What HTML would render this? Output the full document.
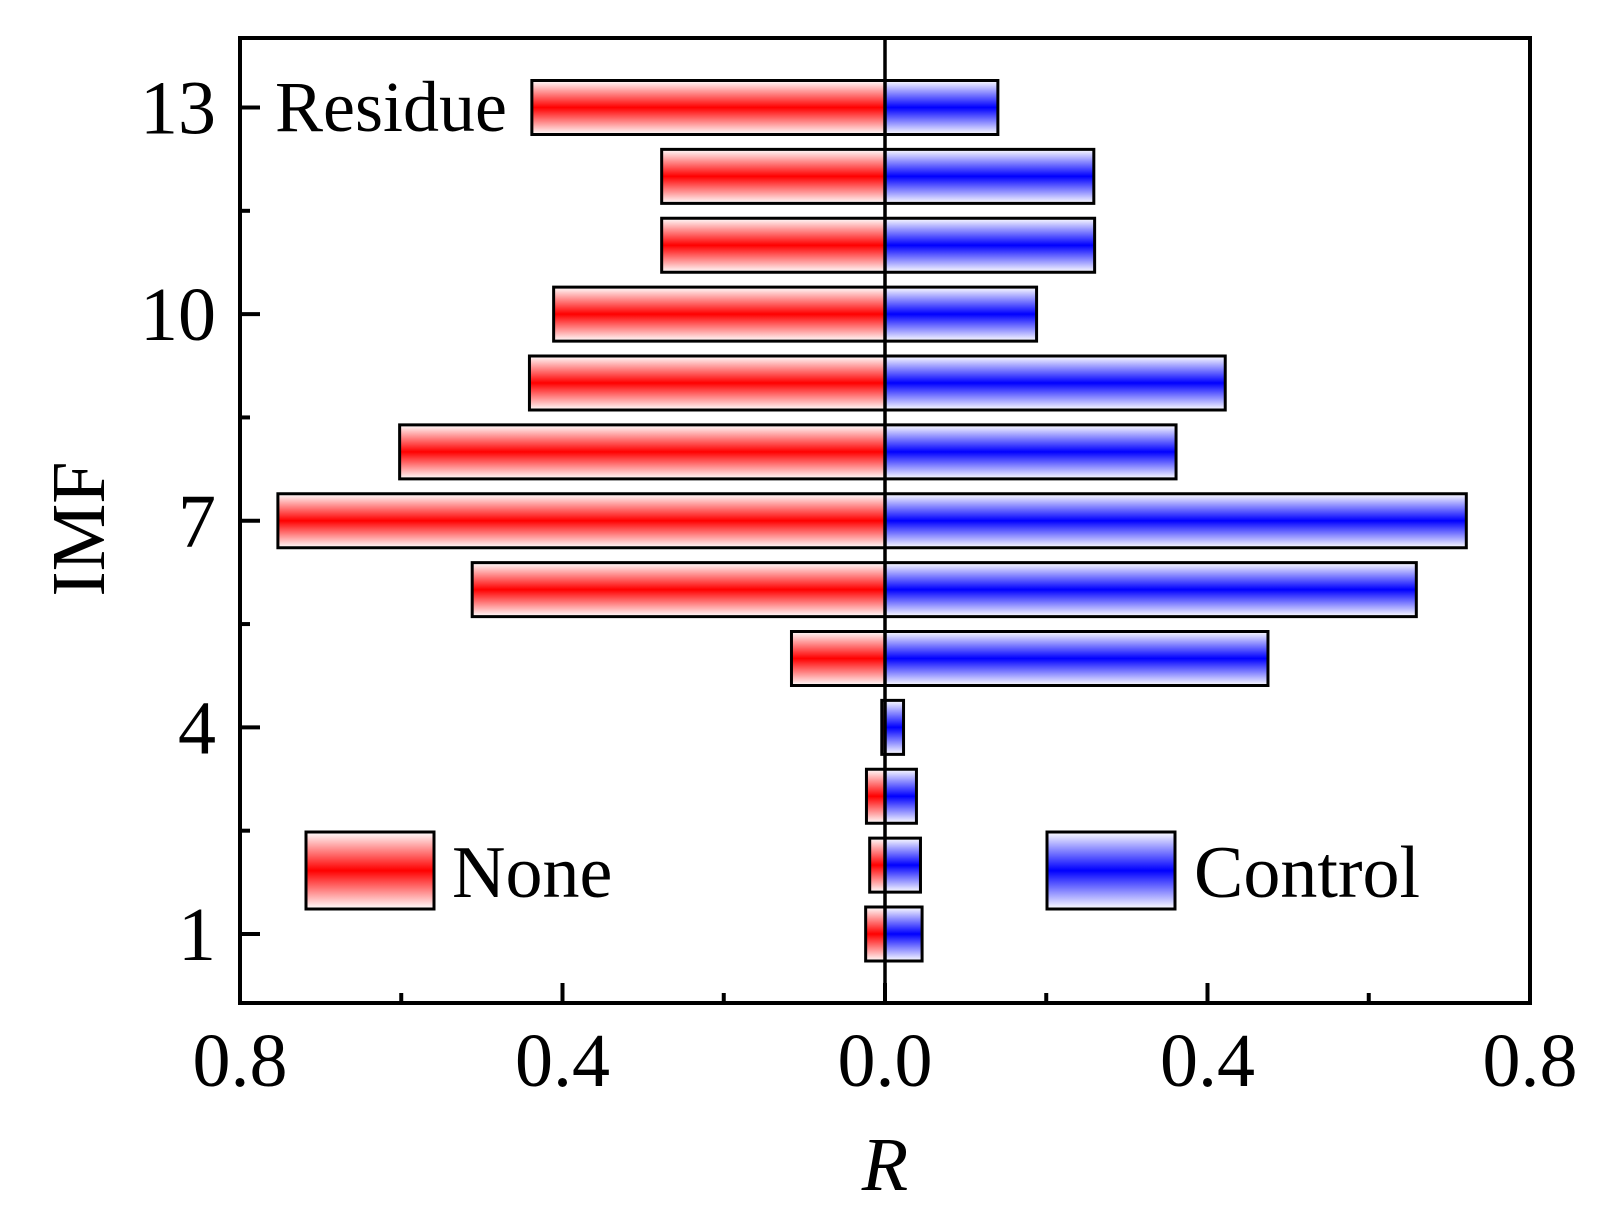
<!DOCTYPE html>
<html><head><meta charset="utf-8"><style>body{margin:0;background:#fff}svg{display:block}text{font-family:"Liberation Serif",serif;fill:#000}</style></head>
<body>
<svg id="chart" width="1604" height="1220" viewBox="0 0 1604 1220" xmlns="http://www.w3.org/2000/svg">
<defs>
<linearGradient id="gr" x1="0" y1="0" x2="0" y2="1"><stop offset="0" stop-color="#fff"/><stop offset="0.5" stop-color="#ff0000"/><stop offset="1" stop-color="#fff"/></linearGradient>
<linearGradient id="gb" x1="0" y1="0" x2="0" y2="1"><stop offset="0" stop-color="#fff"/><stop offset="0.5" stop-color="#0000ff"/><stop offset="1" stop-color="#fff"/></linearGradient>
</defs>
<g id="bars"></g>
<g id="axes"></g>
</svg>
<script>
const imfs=[1,2,3,4,5,6,7,8,9,10,11,12,13];
const noneVals=[0.024,0.019,0.023,0.004,0.116,0.512,0.753,0.602,0.441,0.411,0.277,0.277,0.438];
const controlVals=[0.046,0.044,0.039,0.023,0.475,0.659,0.721,0.361,0.422,0.188,0.260,0.259,0.140];
const xTicks=[-0.8,-0.4,0,0.4,0.8];
const xTickLabels=["0.8","0.4","0.0","0.4","0.8"];
const xMinor=[-0.6,-0.2,0.2,0.6];
const yTicks=[1,4,7,10,13];
const yMinor=[2.5,5.5,8.5,11.5];
const L=240,R=1530,T=38,B=1003;
const X=v=>885+v*(R-885)/0.8;
const Y=v=>934+(v-1)*(107.5-934)/12;
const NS="http://www.w3.org/2000/svg";
function mk(tag,attrs,parent,txt){const e=document.createElementNS(NS,tag);for(const k in attrs)e.setAttribute(k,attrs[k]);if(txt!==undefined)e.textContent=txt;parent.appendChild(e);return e;}
const bars=document.getElementById('bars'),axes=document.getElementById('axes');
const bh=54;
imfs.forEach((m,i)=>{
  const y=Y(m)-bh/2;
  const a=mk('rect',{x:X(-noneVals[i]),y:y,width:X(0)-X(-noneVals[i]),height:bh,fill:'url(#gr)',stroke:'#000','stroke-width':3},bars);
  
  
  const b=mk('rect',{x:X(0),y:y,width:X(controlVals[i])-X(0),height:bh,fill:'url(#gb)',stroke:'#000','stroke-width':3},bars);
  
  
});
mk('line',{x1:X(0),x2:X(0),y1:T,y2:B,stroke:'#000','stroke-width':3.5},axes);
const fr=mk('rect',{x:L,y:T,width:R-L,height:B-T,fill:'none',stroke:'#000','stroke-width':4},axes);


xTicks.forEach((v,i)=>{
  mk('line',{x1:X(v),x2:X(v),y1:B,y2:B-20,stroke:'#000','stroke-width':4},axes);
  const t=mk('text',{x:X(v),y:1086,'font-size':76,'text-anchor':'middle'},axes,xTickLabels[i]);
  
  
});
xMinor.forEach(v=>mk('line',{x1:X(v),x2:X(v),y1:B,y2:B-10,stroke:'#000','stroke-width':4},axes));
yTicks.forEach(v=>{
  mk('line',{x1:L,x2:L+20,y1:Y(v),y2:Y(v),stroke:'#000','stroke-width':4},axes);
  const t=mk('text',{x:216,y:Y(v)+26,'font-size':76,'text-anchor':'end'},axes,String(v));
  
  
});
yMinor.forEach(v=>mk('line',{x1:L,x2:L+10,y1:Y(v),y2:Y(v),stroke:'#000','stroke-width':4},axes));
</script>
<svg style="position:absolute;left:0;top:0" width="1604" height="1220" xmlns="http://www.w3.org/2000/svg">
<text x="275" y="131" font-size="72" style="font-family:'Liberation Serif',serif">Residue</text>
<rect x="306" y="832" width="128" height="77" fill="url(#gr)" stroke="#000" stroke-width="3"/>
<text x="452" y="897" font-size="74" style="font-family:'Liberation Serif',serif">None</text>
<rect x="1047" y="832" width="128" height="77" fill="url(#gb)" stroke="#000" stroke-width="3"/>
<text x="1194" y="897" font-size="74" style="font-family:'Liberation Serif',serif">Control</text>
<text x="0" y="0" font-size="76" text-anchor="middle" transform="translate(104,529) rotate(-90)" style="font-family:'Liberation Serif',serif">IMF</text>
<text x="885" y="1190" font-size="76" font-style="italic" text-anchor="middle" style="font-family:'Liberation Serif',serif">R</text>
</svg>
</body></html>
